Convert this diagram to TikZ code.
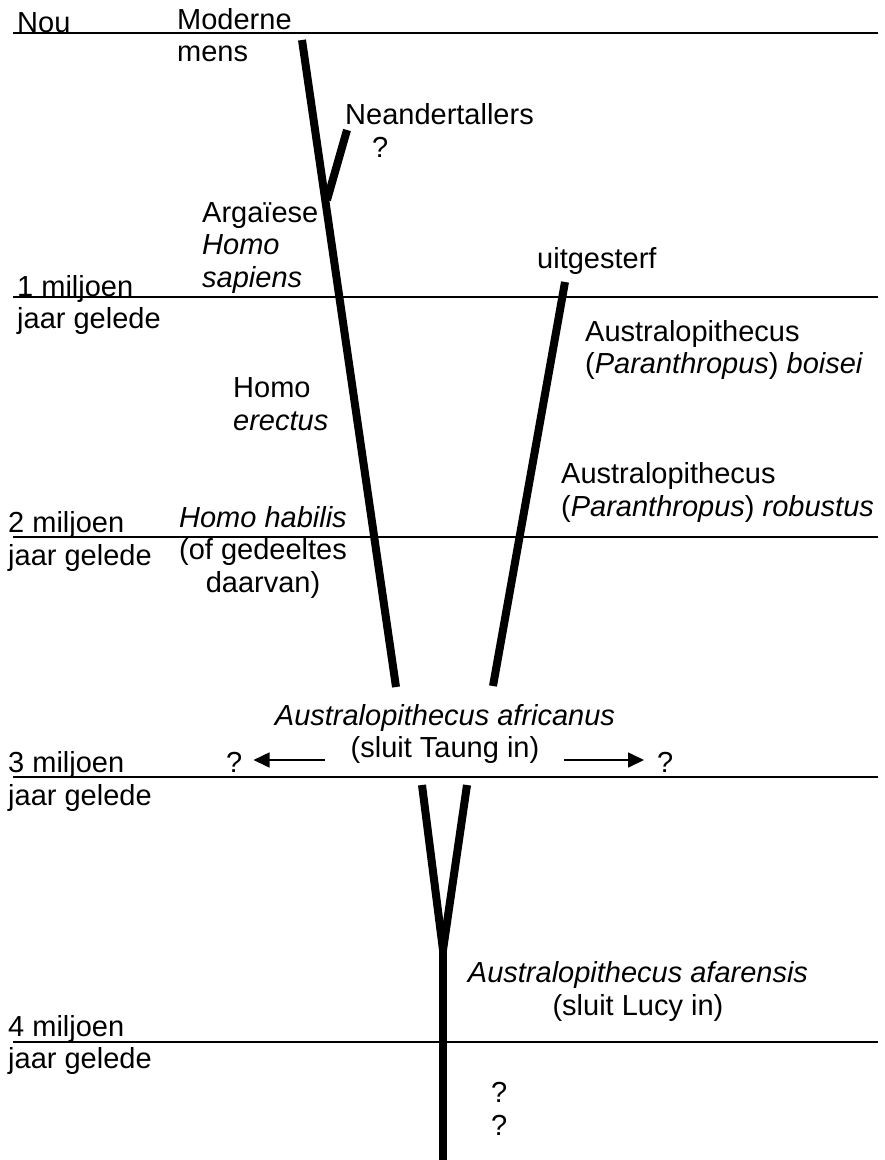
\documentclass[tikz,border=0pt]{standalone}
\usepackage{fontspec}
\setmainfont{Liberation Sans}
\usetikzlibrary{arrows.meta,positioning}
\tikzset{
  txt/.style={inner sep=0pt, align=left, font=\fontsize{29}{32.5}\selectfont},
  ctxt/.style={txt, align=center},
  era/.style={line width=1.6pt},
  branch/.style={line width=8pt},
  arr/.style={line width=1.6pt, -{Triangle[length=16pt,width=15pt]}}
}

\begin{document}
\begin{tikzpicture}[x=1pt,y=-1pt]
\useasboundingbox (0,0) rectangle (885,1160);
\foreach \y/\n in {33/t0,297/t1,537/t2,777/t3,1042/t4}{
  \coordinate (\n l) at (13,\y);
  \coordinate (\n r) at (878,\y);
  \draw[era] (\n l) -- (\n r);
}
\node[txt, anchor=base west] (nou) at (17,32) {Nou};
\node[txt, anchor=base west] (my1) at (17,328.5) {1 miljoen\\jaar gelede};
\node[txt, anchor=base west] (my2) at (8,565) {2 miljoen\\jaar gelede};
\node[txt, anchor=base west] (my3) at (8,805) {3 miljoen\\jaar gelede};
\node[txt, anchor=base west] (my4) at (8,1068.5) {4 miljoen\\jaar gelede};
\node[txt, anchor=base west] (modern) at (177,61.5) {Moderne\\mens};
\node[txt, anchor=base west] (nean) at (345,124) {Neandertallers};
\node[txt, anchor=base west] (qnean) at (372,157) {?};
\node[txt, anchor=base west] (archaic) at (202,287) {Argaïese\\\textit{Homo}\\\textit{sapiens}};
\node[txt, anchor=base west] (erectus) at (233,430) {Homo\\\textit{erectus}};
\node[ctxt, anchor=base] (habilis) at (263,592) {\textit{Homo habilis}\\(of gedeeltes\\daarvan)};
\node[txt, anchor=base west] (extinct) at (537,268) {uitgesterf};
\node[txt, anchor=base west] (boisei) at (585,373.5) {Australopithecus\\(\textit{Paranthropus}) \textit{boisei}};
\node[txt, anchor=base west] (robustus) at (561,516) {Australopithecus\\(\textit{Paranthropus}) \textit{robustus}};
\node[ctxt, anchor=base] (africanus) at (445,757.5) {\textit{Australopithecus africanus}\\(sluit Taung in)};
\node[txt, anchor=base west] (qleft) at (226,772) {?};
\node[txt, anchor=base west] (qright) at (657,772) {?};
\node[ctxt, anchor=base] (afarensis) at (638,1015) {\textit{Australopithecus afarensis}\\(sluit Lucy in)};
\node[txt, anchor=base west] (qlow1) at (491,1102) {?};
\node[txt, below=12.5pt of qlow1] (qlow2) {?};
\coordinate (homotop) at (302,40);
\coordinate (homobot) at (396,687);
\coordinate (neanjoin) at (327,200);
\coordinate (neantop) at (347,130);
\coordinate (paratop) at (565,282);
\coordinate (parabot) at (493,686);
\coordinate (vleft) at (422,785);
\coordinate (vright) at (467,785);
\coordinate (vjoin) at (443,950);
\coordinate (vbot) at (443,1160);
\coordinate (arrl) at (325,760);
\coordinate (arrr) at (564,760);
\draw[branch] (homotop) -- (homobot);
\draw[branch] (neanjoin) -- (neantop);
\draw[branch] (paratop) -- (parabot);
\draw[branch] (vleft) -- (vjoin);
\draw[branch] (vright) -- (vjoin);
\draw[branch] (vjoin) -- (vbot);
\draw[arr, shorten >=11pt] (arrl) -- (qleft.east |- arrl);
\draw[arr, shorten >=13pt] (arrr) -- (qright.west |- arrr);
\end{tikzpicture}
\end{document}
